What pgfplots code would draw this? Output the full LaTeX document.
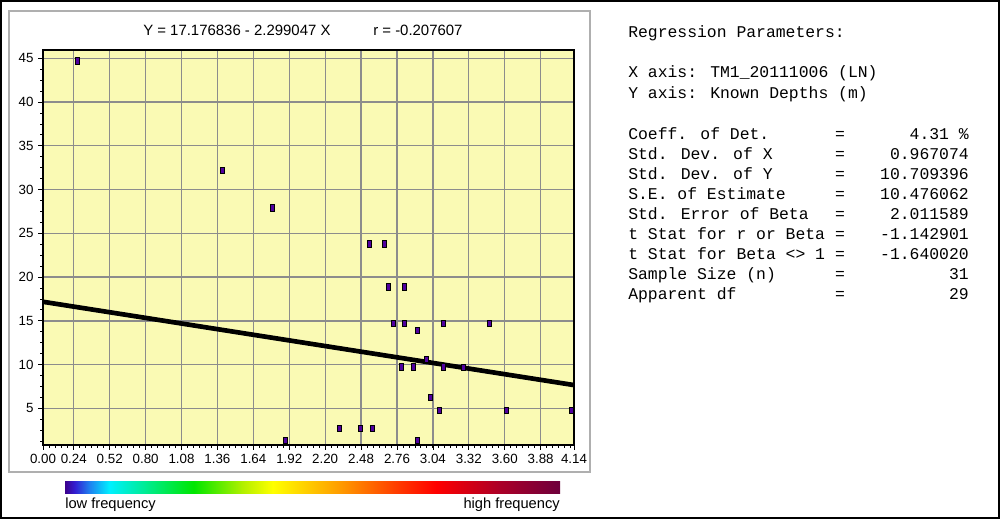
\documentclass[border=0pt]{standalone}
\usepackage{fontspec}
\setmainfont{Liberation Sans}
\newfontfamily\monofont{Liberation Mono}
\usepackage{pgfplots}
\pgfplotsset{compat=1.18}

\definecolor{bgyellow}{RGB}{250,250,180}
\definecolor{gridgray}{RGB}{140,140,140}
\definecolor{ptcolor}{RGB}{80,0,160}
\definecolor{panelgray}{RGB}{175,175,175}
% colour bar stops
\definecolor{c0}{RGB}{60,0,140}
\definecolor{c1}{RGB}{50,30,210}
\definecolor{c2}{RGB}{30,130,240}
\definecolor{c3}{RGB}{0,240,255}
\definecolor{c4}{RGB}{0,230,0}
\definecolor{c5}{RGB}{180,240,0}
\definecolor{c6}{RGB}{255,255,0}
\definecolor{c7}{RGB}{255,160,0}
\definecolor{c8}{RGB}{255,60,0}
\definecolor{c9}{RGB}{255,0,0}
\definecolor{c10}{RGB}{170,0,40}
\definecolor{c11}{RGB}{110,0,60}
\pgfdeclarehorizontalshading{freqbar}{100bp}{color(0bp)=(c0); color(25bp)=(c0);
  color(26bp)=(c1); color(27.5bp)=(c2); color(29.5bp)=(c3); color(38bp)=(c4);
  color(43bp)=(c5); color(46bp)=(c6); color(52.5bp)=(c7); color(58.5bp)=(c8);
  color(62.5bp)=(c9); color(69bp)=(c10); color(75bp)=(c11); color(100bp)=(c11)}

\begin{document}
\begin{tikzpicture}
% frame, title, colour bar and parameter panel (1 unit = 1 px of the reference)
\begin{scope}[x=0.75pt,y=-0.75pt]
\useasboundingbox (0,0) rectangle (1000,519);
\fill[white] (0,0) rectangle (1000,519);
\draw[black, line width=1.5pt] (1,1) rectangle (999,518);
\draw[panelgray, line width=1pt] (9,11) rectangle (590,472);

\node[anchor=mid west, inner sep=0, font=\fontsize{11.2}{13}\selectfont] at (143,32) {Y = 17.176836 - 2.299047 X};
\node[anchor=mid west, inner sep=0, font=\fontsize{11.2}{13}\selectfont] at (373,32) {r = -0.207607};

\shade[shading=freqbar] (65,481) rectangle (560,493);
\node[anchor=mid west, inner sep=0, font=\fontsize{11}{13}\selectfont] at (65,505) {low frequency};
\node[anchor=mid east, inner sep=0, font=\fontsize{11}{13}\selectfont] at (560,505) {high frequency};

\begin{scope}[every node/.style={inner sep=0, font=\monofont\fontsize{12.3}{14}\selectfont}]
\node[anchor=mid west] at (628,34) {Regression Parameters:};
\node[anchor=mid west] at (628,74) {X axis: TM1\_20111006 (LN)};
\node[anchor=mid west] at (628,95) {Y axis: Known Depths (m)};
\foreach \lab/\val [count=\i from 0] in {
  {Coeff. of Det.}/{4.31 \%},
  {Std. Dev. of X}/{0.967074},
  {Std. Dev. of Y}/{10.709396},
  {S.E. of Estimate}/{10.476062},
  {Std. Error of Beta}/{2.011589},
  {t Stat for r or Beta}/{-1.142901},
  {t Stat for Beta <> 1}/{-1.640020},
  {Sample Size (n)}/{31},
  {Apparent df}/{29}} {
  \node[anchor=mid west] at (628,136+20*\i) {\lab};
  \node[anchor=mid] at (840,136+20*\i) {=};
  \node[anchor=mid east] at (969,136+20*\i) {\val};
}
\end{scope}
\end{scope}

\begin{axis}[
  at={(32.25pt,-333.75pt)}, anchor=south west,
  scale only axis, width=398.25pt, height=296.25pt,
  xmin=0, xmax=4.14, ymin=0.81, ymax=45.95,
  xtick={0,0.24,0.52,0.80,1.08,1.36,1.64,1.92,2.20,2.48,2.76,3.04,3.32,3.60,3.88,4.14},
  minor xtick={0.00667,0.05333,...,4.14},
  ytick={5,10,...,45},
  minor ytick={1.25,2.5,...,45.5},
  xticklabel style={/pgf/number format/.cd, fixed, fixed zerofill, precision=2},
  /pgf/number format/assume math mode=true,
  tick label style={font=\fontsize{10}{12}\selectfont},
  tick pos=left, tick align=outside,
  major tick length=3.6pt, minor tick length=2.2pt,
  every tick/.style={black, line width=0.6pt},
  grid=major, major grid style={gridgray, line width=1pt},
  axis background/.style={fill=bgyellow},
  axis line style={black, line width=0.8pt},
]
\addplot[only marks, mark=square*, mark size=1.5pt,
  mark options={draw=none, fill=ptcolor, yscale=1.6}] coordinates {
  (0.27,44.7) (1.40,32.2) (1.79,27.9) (2.54,23.8) (2.66,23.8)
  (2.69,18.9) (2.82,18.9) (2.73,14.7) (2.82,14.7) (2.92,13.9)
  (3.12,14.7) (3.48,14.7) (2.79,9.75) (2.89,9.75) (2.99,10.6)
  (3.12,9.75) (3.28,9.7) (3.02,6.3) (3.09,4.77) (3.61,4.77)
  (4.12,4.77) (2.31,2.72) (2.47,2.72) (2.57,2.72) (2.92,1.38)
  (1.89,1.38)
};
\addplot[black, line width=3.5pt] coordinates {(0,17.177) (4.14,7.659)};
\end{axis}
\end{tikzpicture}
\end{document}
